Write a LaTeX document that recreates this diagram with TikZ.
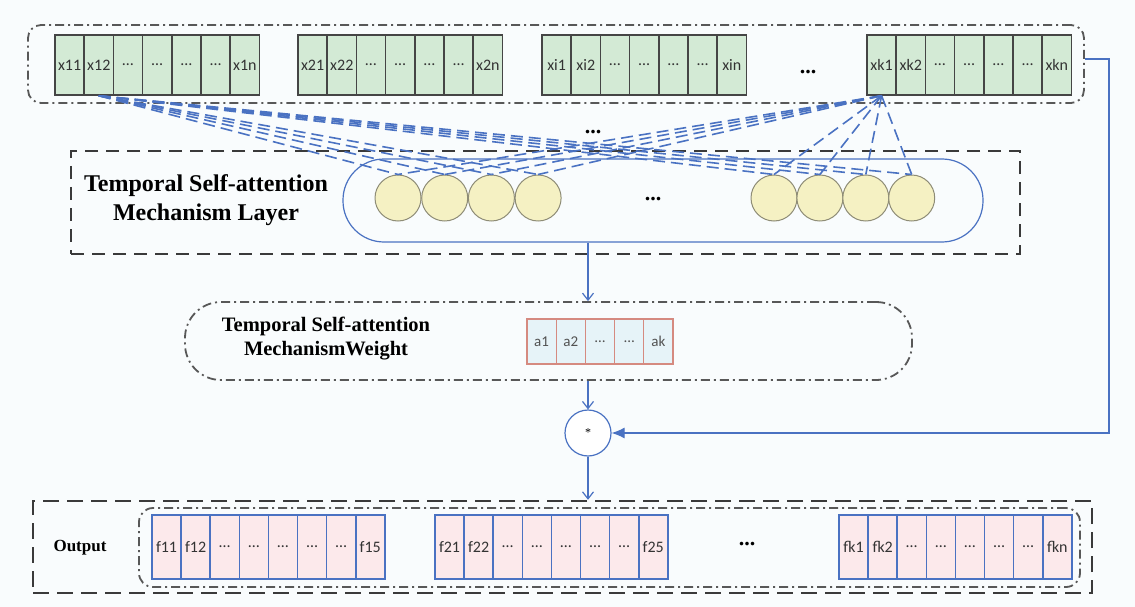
\documentclass[tikz,border=0pt]{standalone}
\usepackage{fontspec}
\setmainfont{Liberation Serif}
\newfontfamily\cellfont{Carlito}
\usetikzlibrary{arrows.meta}
\definecolor{bgc}{HTML}{F9FCFD}
\definecolor{xgreen}{HTML}{D3EAD5}
\definecolor{cellgray}{HTML}{454545}
\definecolor{blueL}{HTML}{4A72C2}
\definecolor{ycirc}{HTML}{F5F1C3}
\definecolor{ystroke}{HTML}{8E8C76}
\definecolor{astroke}{HTML}{D58A80}
\definecolor{afill}{HTML}{E6F3F8}
\definecolor{fpink}{HTML}{FCE9EB}
\definecolor{darkl}{HTML}{3A3A3A}
\definecolor{txtg}{HTML}{333333}
\tikzset{
  xcell/.style={draw=cellgray, fill=xgreen, line width=1.5pt, minimum width=29.2pt, minimum height=60pt, inner sep=0pt, font=\cellfont\fontsize{16}{16}\selectfont, text=txtg},
  fcell/.style={draw=blueL, fill=fpink, line width=1.6pt, minimum width=29.1pt, minimum height=64pt, inner sep=0pt, font=\cellfont\fontsize{16}{16}\selectfont, text=txtg},
  acell/.style={draw=astroke, fill=afill, line width=1.3pt, minimum width=29.2pt, minimum height=45pt, inner sep=0pt, font=\cellfont\fontsize{15}{15}\selectfont, text=txtg!85},
  attcirc/.style={circle, draw=ystroke, fill=ycirc, line width=1pt, minimum size=46pt, inner sep=0pt},
  dashdotbox/.style={draw=darkl!85, line width=1.8pt, dash pattern=on 9pt off 4pt on 2pt off 4pt, inner sep=0pt},
  bigdashbox/.style={draw=darkl, line width=2.4pt, dash pattern=on 13pt off 8pt, inner sep=0pt},
  attline/.style={draw=blueL, line width=1.6pt, dash pattern=on 12pt off 6pt},
  bluearrow/.style={draw=blueL, line width=1.2pt, -{Straight Barb[length=7pt,width=11pt,line width=1.2pt]}},
  ttl/.style={font=\bfseries, align=center, text=black, inner sep=0pt},
  bigdots/.style={font=\bfseries\fontsize{22}{22}\selectfont, inner sep=0pt}
}
\begin{document}
\begin{tikzpicture}[x=1pt,y=-1pt]
\useasboundingbox (0,0) rectangle (1135,607);
\fill[bgc] (0,0) rectangle (1135,607);

% top input box
\node[dashdotbox, rounded corners=13pt, minimum width=1056pt, minimum height=78pt] (topbox) at (556,64) {};
\foreach \p/\xo in {1/55,2/298,i/542,k/867}{
  \foreach \i/\t in {1/x\p1,2/x\p2,3/\dots,4/\dots,5/\dots,6/\dots,7/x\p n}{
    \node[xcell] (x\p\i) at ({\xo+(\i-0.5)*29.2},65) {\t};
  }
}
\node[bigdots] (topdots) at (808,72) {...};

% attention layer
\node[bigdashbox, minimum width=949pt, minimum height=103pt] (layerbox) at (545.5,202.5) {};
\node[draw=blueL, line width=1.2pt, rounded corners=41pt, minimum width=640pt, minimum height=83pt, inner sep=0pt] (layer) at (663,200.5) {};
\node[ttl, font=\bfseries\fontsize{24}{29}\selectfont] (layertitle) at (206,200) {Temporal Self-attention\\Mechanism Layer};
\foreach \i in {1,...,4}{
  \node[attcirc] (L\i) at ({398+46.7*(\i-1)},198) {};
  \node[attcirc] (R\i) at ({774+45.9*(\i-1)},198) {};
}
\node[bigdots] (middots) at (653,199) {...};
\node[bigdots] (linedots) at (593,132) {...};
\foreach \i in {1,...,4}{
  \draw[attline] (x12.south) -- (L\i.north);
  \draw[attline] (x12.south) -- (R\i.north);
  \draw[attline] (xk1.south) -- (L\i.north);
  \draw[attline] (xk1.south) -- (R\i.north);
}

% weight
\node[dashdotbox, rounded corners=36pt, minimum width=727pt, minimum height=78pt] (wbox) at (548.5,341) {};
\node[ttl, font=\bfseries\fontsize{20.5}{24}\selectfont] (wtitle) at (326,339) {Temporal Self-attention\\MechanismWeight};
\foreach \i/\t in {1/a1,2/a2,3/\dots,4/\dots,5/ak}{
  \node[acell] (a\i) at ({527+(\i-0.5)*29.2},341.5) {\t};
}

% multiply
\node[circle, draw=blueL, fill=white, line width=1.2pt, minimum size=46pt, inner sep=0pt, font=\fontsize{12}{12}\selectfont] (mul) at (588,433) {*};

% output
\node[bigdashbox, dash pattern=on 16pt off 8pt, minimum width=1059pt, minimum height=92pt] (outbox) at (562.5,547) {};
\node[dashdotbox, rounded corners=14pt, minimum width=941pt, minimum height=79pt] (outinner) at (609.5,547.5) {};
\node[ttl, font=\bfseries\fontsize{17}{20}\selectfont] (outtitle) at (80,548) {Output};
\foreach \p/\q/\xo in {1/15/152,2/25/435,k/kn/839}{
  \foreach \i/\t in {1/f\p1,2/f\p2,3/\dots,4/\dots,5/\dots,6/\dots,7/\dots,8/f\q}{
    \node[fcell] (f\p\i) at ({\xo+(\i-0.5)*29.1},547) {\t};
  }
}
\node[bigdots] (botdots) at (747,544) {...};

% arrows
\draw[bluearrow] (mul |- layer.south) -- (mul |- wbox.north);
\draw[bluearrow] (mul |- wbox.south) -- (mul.north);
\draw[bluearrow] (mul.south) -- (mul |- outbox.north);
\coordinate (fbk) at (1109,59);
\draw[draw=blueL, line width=1.2pt, -{Latex[length=13pt,width=11pt]}] ([yshift=5pt]topbox.east) -- (fbk) |- (mul.east);
\end{tikzpicture}
\end{document}
